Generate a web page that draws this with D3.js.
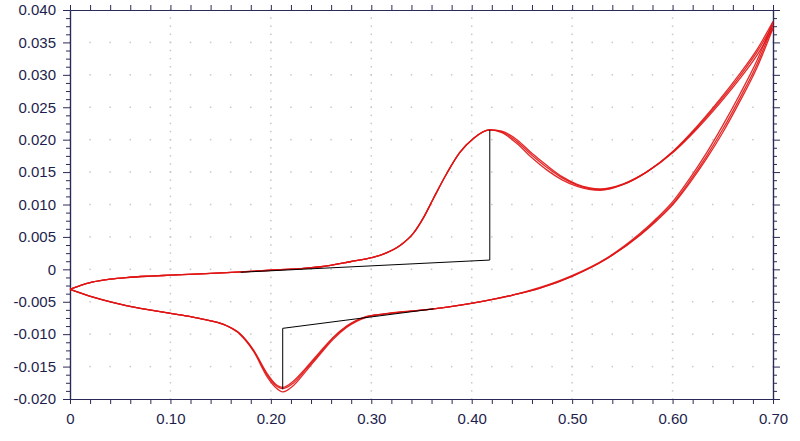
<!DOCTYPE html>
<html>
<head>
<meta charset="utf-8">
<script src="https://cdn.jsdelivr.net/npm/d3@7"></script>
<style>
  html, body { margin: 0; padding: 0; background: #ffffff; }
  svg { display: block; }
</style>
</head>
<body>
<svg id="chart" width="800" height="441"></svg>
<script>
// ---- data ----
const xTickLabels = ["0", "0.10", "0.20", "0.30", "0.40", "0.50", "0.60", "0.70"];
const yTickLabels = ["-0.020", "-0.015", "-0.010", "-0.005", "0", "0.005", "0.010", "0.015", "0.020", "0.025", "0.030", "0.035", "0.040"];
const xMajorTicks = [0, 0.1, 0.2, 0.3, 0.4, 0.5, 0.6, 0.7];
const yMajorTicks = [-0.02, -0.015, -0.01, -0.005, 0, 0.005, 0.01, 0.015, 0.02, 0.025, 0.03, 0.035, 0.04];

// potential (V): forward scan 0 -> 0.70
const potentialFwd = [
  0.000, 0.010, 0.023, 0.040, 0.056, 0.080, 0.100, 0.130, 0.156, 0.180,
  0.200, 0.229, 0.250, 0.279, 0.300, 0.312, 0.329, 0.342, 0.352, 0.362,
  0.375, 0.388, 0.402, 0.418, 0.430, 0.445, 0.460, 0.475, 0.490, 0.505,
  0.528, 0.551, 0.574, 0.601, 0.624, 0.647, 0.667, 0.684, 0.700
];
// potential (V): reverse scan 0.70 -> 0
const potentialRev = [
  0.700, 0.684, 0.667, 0.650, 0.634, 0.617, 0.601, 0.585, 0.568, 0.534,
  0.501, 0.468, 0.440, 0.412, 0.362, 0.312, 0.295, 0.275, 0.262, 0.249,
  0.235, 0.222, 0.212, 0.204, 0.196, 0.183, 0.169, 0.156, 0.139, 0.120,
  0.100, 0.056, 0.023, 0.000
];
// current (A), three cycles
const cycle1Fwd = [
  -0.0031, -0.0025, -0.00195, -0.00152, -0.00127, -0.00104, -0.00090, -0.00071, -0.00052, -0.00032,
  -0.00014, 0.00012, 0.0004, 0.00117, 0.0018, 0.00234, 0.0037, 0.00557, 0.00797, 0.01097,
  0.01474, 0.01799, 0.02023, 0.0215, 0.0211, 0.0194, 0.0172, 0.0153, 0.0138, 0.0128,
  0.0122, 0.0131, 0.0150, 0.0183, 0.0220, 0.0262, 0.0302, 0.0339, 0.0382
];
const cycle1Rev = [
  0.0382, 0.0322, 0.0270, 0.0222, 0.0180, 0.0140, 0.0106, 0.0080, 0.0056, 0.0017,
  -0.0009, -0.0028, -0.0040, -0.0049, -0.0061, -0.0069, -0.0074, -0.0090, -0.0108, -0.0131,
  -0.0157, -0.0180, -0.0189, -0.0181, -0.0165, -0.0127, -0.0100, -0.0087, -0.0079, -0.0073,
  -0.0068, -0.0056, -0.0043, -0.0031
];
const cycle2Fwd = [
  -0.0031, -0.0025, -0.00195, -0.00152, -0.00127, -0.00104, -0.00090, -0.00071, -0.00052, -0.00032,
  -0.00014, 0.00012, 0.0004, 0.00117, 0.0018, 0.00234, 0.0037, 0.00557, 0.00797, 0.01097,
  0.01474, 0.01799, 0.02023, 0.0215, 0.0212, 0.0197, 0.0176, 0.0157, 0.0141, 0.0130,
  0.0123, 0.0131, 0.0150, 0.0182, 0.0218, 0.0259, 0.0298, 0.0335, 0.0377
];
const cycle2Rev = [
  0.0377, 0.0316, 0.0264, 0.0216, 0.0175, 0.0136, 0.0103, 0.0078, 0.0054, 0.0016,
  -0.0010, -0.0029, -0.0040, -0.0049, -0.0061, -0.0069, -0.0073, -0.0088, -0.0105, -0.0127,
  -0.0152, -0.0173, -0.0182, -0.0176, -0.0160, -0.0125, -0.0099, -0.0087, -0.0079, -0.0073,
  -0.0068, -0.0056, -0.0043, -0.0031
];
const cycle3Fwd = [
  -0.0031, -0.0025, -0.00195, -0.00152, -0.00127, -0.00104, -0.00090, -0.00071, -0.00052, -0.00032,
  -0.00014, 0.00012, 0.0004, 0.00117, 0.0018, 0.00234, 0.0037, 0.00557, 0.00797, 0.01097,
  0.01474, 0.01799, 0.02023, 0.0215, 0.0213, 0.0200, 0.0179, 0.0160, 0.0143, 0.0131,
  0.0124, 0.0132, 0.0150, 0.0181, 0.0216, 0.0256, 0.0294, 0.0330, 0.0372
];
const cycle3Rev = [
  0.0372, 0.0311, 0.0259, 0.0211, 0.0171, 0.0133, 0.0101, 0.0076, 0.0053, 0.0016,
  -0.0010, -0.0029, -0.0040, -0.0049, -0.0061, -0.0069, -0.0073, -0.0089, -0.0106, -0.0129,
  -0.0154, -0.0176, -0.0184, -0.0178, -0.0162, -0.0126, -0.0099, -0.0087, -0.0079, -0.0073,
  -0.0068, -0.0056, -0.0043, -0.0031
];
// baselines (black)
const oxBaselineE = [0.170, 0.418, 0.418];
const oxBaselineI = [-0.00045, 0.00143, 0.0215];
const redBaselineE = [0.362, 0.2118, 0.2118];
const redBaselineI = [-0.0061, -0.0091, -0.0185];

// ---- layout ----
const svg = d3.select("#chart");
const L = 70, R = 773, T = 10, B = 399;
const x = d3.scaleLinear().domain([0, 0.7]).range([L, R]);
const y = d3.scaleLinear().domain([-0.02, 0.04]).range([B, T]);

const xMinor = d3.range(0, 36).map(i => +(i * 0.02).toFixed(2));
const yMinor = d3.range(0, 49).map(i => +(-0.02 + i * 0.00125).toFixed(5));

const axisColor = "#2a2a58";
const textColor = "#1e1e4c";
const font = "'Liberation Sans', Arial, sans-serif";

// grid dots
const grid = svg.append("g");
const dots = [];
xMajorTicks.slice(1, -1).forEach(gx => yMinor.forEach(gy => dots.push([gx, gy])));
yMajorTicks.slice(1, -1).forEach(gy => xMinor.forEach(gx => dots.push([gx, gy])));
grid.selectAll("rect").data(dots).join("rect")
  .attr("x", d => x(d[0]) - 0.75)
  .attr("y", d => y(d[1]) - 0.75)
  .attr("width", 1.5).attr("height", 1.5)
  .attr("fill", "#c8c8c8");

// axes
function styleAxis(g) {
  g.select(".domain").attr("stroke", axisColor).attr("stroke-width", 1.2);
  g.selectAll(".tick line").attr("stroke", axisColor);
  g.selectAll("text").attr("fill", textColor).style("font-family", font).style("font-size", "15px");
}
const isMajorY = v => yMajorTicks.some(m => Math.abs(m - v) < 1e-7);

svg.append("g").attr("transform", `translate(0,${B})`)
  .call(d3.axisBottom(x).tickValues(xMinor).tickSize(5).tickSizeOuter(0).tickPadding(9)
    .tickFormat(d => { const i = xMajorTicks.findIndex(m => Math.abs(m - d) < 1e-7); return i >= 0 ? xTickLabels[i] : ""; }))
  .call(styleAxis);
svg.append("g").attr("transform", `translate(0,${T})`)
  .call(d3.axisTop(x).tickValues(xMinor).tickSize(5).tickSizeOuter(0).tickFormat(""))
  .call(styleAxis);
svg.append("g").attr("transform", `translate(${L},0)`)
  .call(d3.axisLeft(y).tickValues(yMinor.filter(v => !isMajorY(v))).tickSize(4).tickSizeOuter(0).tickFormat(""))
  .call(styleAxis);
svg.append("g").attr("transform", `translate(${L},0)`)
  .call(d3.axisLeft(y).tickValues(yMajorTicks).tickSize(7).tickSizeOuter(0).tickPadding(7)
    .tickFormat((d, i) => yTickLabels[i]))
  .call(styleAxis);
svg.append("g").attr("transform", `translate(${R},0)`)
  .call(d3.axisRight(y).tickValues(yMinor.filter(v => !isMajorY(v))).tickSize(4).tickSizeOuter(0).tickFormat(""))
  .call(styleAxis);
svg.append("g").attr("transform", `translate(${R},0)`)
  .call(d3.axisRight(y).tickValues(yMajorTicks).tickSize(7).tickSizeOuter(0).tickFormat(""))
  .call(styleAxis);

// curves: each branch drawn with monotone interpolation in x
const line = d3.line().x(d => x(d[0])).y(d => y(d[1])).curve(d3.curveMonotoneX);
const plot = svg.append("g");
[[cycle3Fwd, cycle3Rev], [cycle2Fwd, cycle2Rev], [cycle1Fwd, cycle1Rev]].forEach(([f, r]) => {
  const fwd = potentialFwd.map((e, i) => [e, f[i]]);
  const rev = potentialRev.map((e, i) => [e, r[i]]).reverse();
  [fwd, rev].forEach(pts => {
    plot.append("path").attr("d", line(pts))
      .attr("fill", "none").attr("stroke", "#e01414").attr("stroke-width", 1.3)
      .attr("stroke-opacity", 0.9);
  });
});
const straight = d3.line().x(d => x(d[0])).y(d => y(d[1]));
plot.append("path").attr("d", straight(oxBaselineE.map((e, i) => [e, oxBaselineI[i]])))
  .attr("fill", "none").attr("stroke", "#000").attr("stroke-width", 1);
plot.append("path").attr("d", straight(redBaselineE.map((e, i) => [e, redBaselineI[i]])))
  .attr("fill", "none").attr("stroke", "#000").attr("stroke-width", 1);
</script>
</body>
</html>
